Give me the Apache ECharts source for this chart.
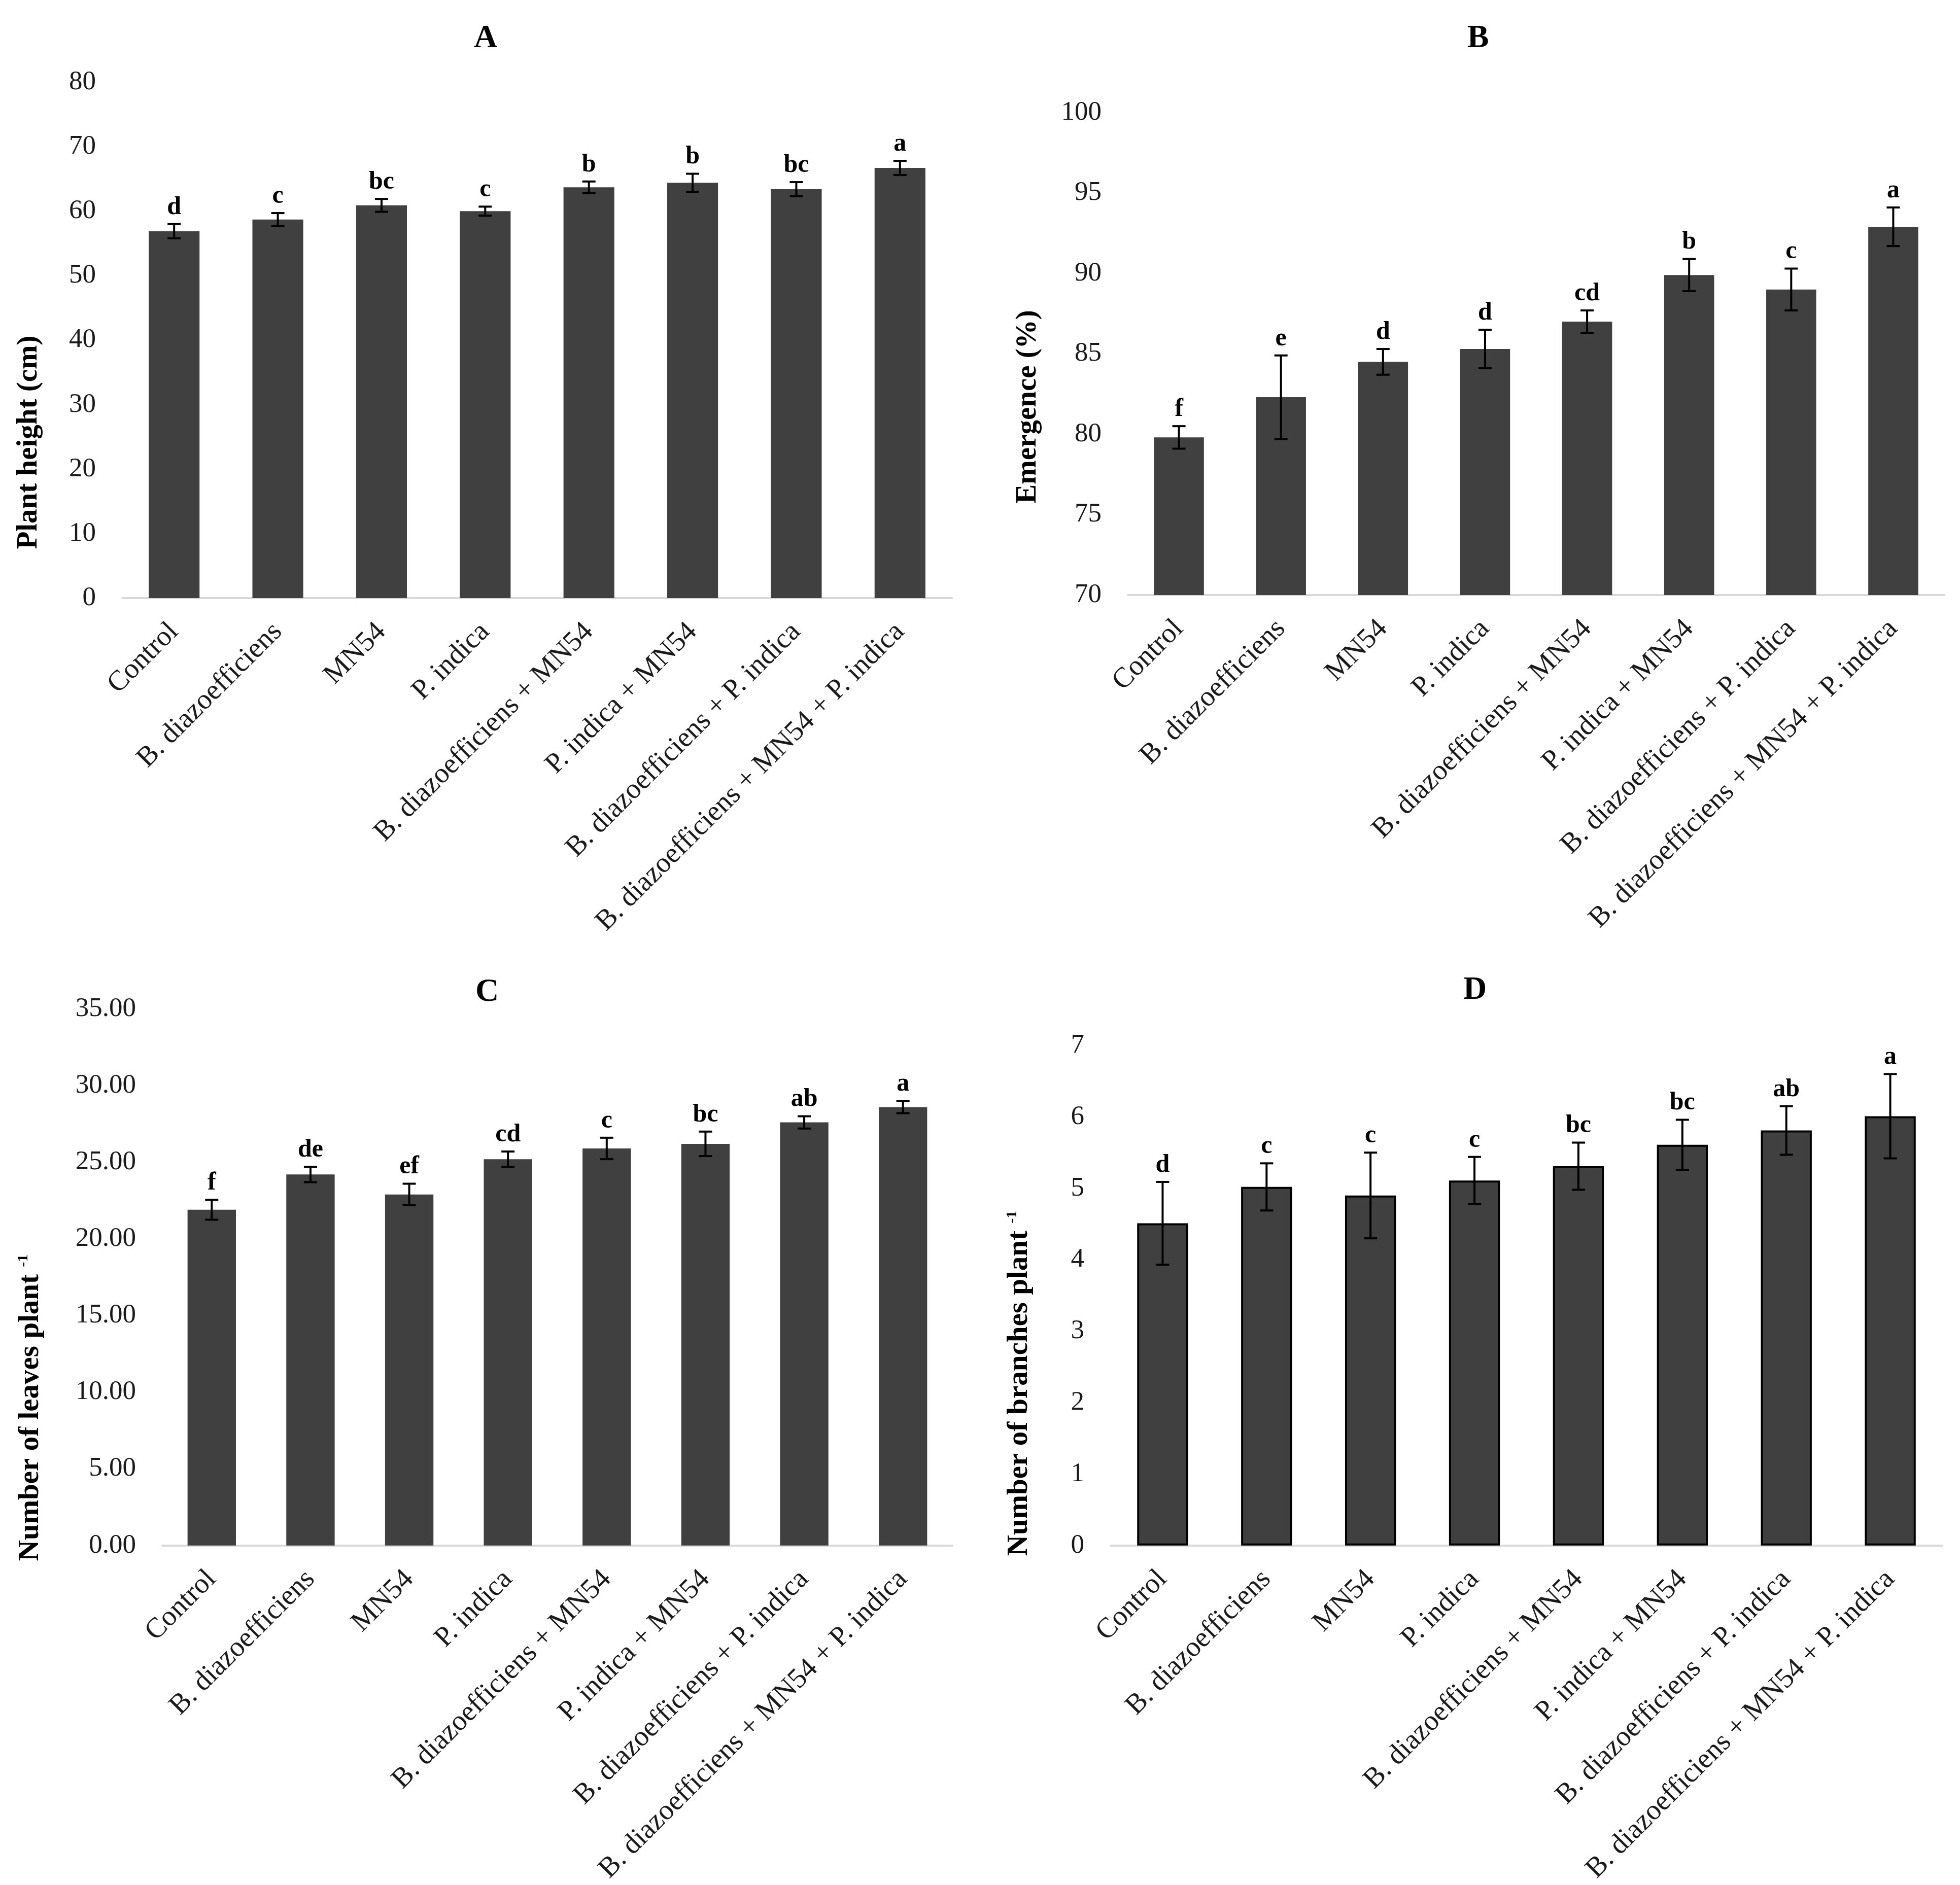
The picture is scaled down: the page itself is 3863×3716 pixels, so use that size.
<!DOCTYPE html>
<html>
<head>
<meta charset="utf-8">
<script src="https://cdn.jsdelivr.net/npm/echarts@6/dist/echarts.min.js"></script>
<style>
  html, body { margin: 0; padding: 0; background: #fff; }
  #chart { width: 3863px; height: 3716px; }
</style>
</head>
<body>
<div id="chart"></div>
<script>
// treatments, same order in every panel
const categories = [
    'Control',
    'B. diazoefficiens',
    'MN54',
    'P. indica',
    'B. diazoefficiens + MN54',
    'P. indica + MN54',
    'B. diazoefficiens + P. indica',
    'B. diazoefficiens + MN54 + P. indica'
];

// A - plant height (cm)
const heightMean = [56.9, 58.7, 60.9, 60.0, 63.7, 64.4, 63.4, 66.7];
const heightErr = [1.1, 1.0, 1.0, 0.7, 0.9, 1.4, 1.1, 1.1];
const heightLetters = ['d', 'c', 'bc', 'c', 'b', 'b', 'bc', 'a'];

// B - emergence (%)
const emergenceMean = [79.8, 82.3, 84.5, 85.3, 87.0, 89.9, 89.0, 92.9];
const emergenceErr = [0.7, 2.6, 0.8, 1.2, 0.7, 1.0, 1.3, 1.2];
const emergenceLetters = ['f', 'e', 'd', 'd', 'cd', 'b', 'c', 'a'];

// C - number of leaves per plant
const leavesMean = [21.9, 24.2, 22.9, 25.2, 25.9, 26.2, 27.6, 28.6];
const leavesErr = [0.65, 0.5, 0.7, 0.5, 0.7, 0.8, 0.4, 0.4];
const leavesLetters = ['f', 'de', 'ef', 'cd', 'c', 'bc', 'ab', 'a'];

// D - number of branches per plant
const branchesMean = [4.51, 5.02, 4.90, 5.11, 5.31, 5.61, 5.81, 6.01];
const branchesErr = [0.58, 0.33, 0.60, 0.33, 0.33, 0.35, 0.34, 0.59];
const branchesLetters = ['d', 'c', 'c', 'c', 'bc', 'bc', 'ab', 'a'];

const FONT = '"Liberation Serif", "Times New Roman", serif';
const TEXT = '#1a1a1a';
const BAR = '#404040';

const panels = [
    {title: 'A', mean: heightMean, err: heightErr, letters: heightLetters,
        min: 0, max: 80, interval: 10, digits: 0, border: false,
        grid: {left: 241, right: 1987, top: 162, bottom: 2537}, titleX: 957, titleY: 44},
    {title: 'B', mean: emergenceMean, err: emergenceErr, letters: emergenceLetters,
        min: 70, max: 100, interval: 5, digits: 0, border: false,
        grid: {left: 2223, right: 31, top: 222, bottom: 2543}, titleX: 2913, titleY: 44},
    {title: 'C', mean: leavesMean, err: leavesErr, letters: leavesLetters,
        min: 0, max: 35, interval: 5, digits: 2, border: false,
        grid: {left: 320, right: 1986, top: 1989, bottom: 617}, titleX: 960, titleY: 1924},
    {title: 'D', mean: branchesMean, err: branchesErr, letters: branchesLetters,
        min: 0, max: 7, interval: 1, digits: 0, border: true,
        grid: {left: 2189, right: 35, top: 2061, bottom: 612}, titleX: 2907, titleY: 1920}
];

// y axis titles, drawn as rotated text
const yNames = [
    {text: 'Plant height (cm)', x: 57, y: 872},
    {text: 'Emergence (%)', x: 2026, y: 802},
    {text: 'Number of leaves plant {sup|-1}', x: 60, y: 2775},
    {text: 'Number of branches plant {sup|-1}', x: 2009, y: 2727}
];

const errorRenderer = (panel) => function (params, api) {
    const i = api.value(0);
    const m = api.value(1);
    const e = api.value(2);
    const top = api.coord([i, m + e]);
    const bot = api.coord([i, m - e]);
    const hw = 13;
    const lineStyle = {stroke: '#000', lineWidth: 4};
    return {
        type: 'group',
        children: [
            {type: 'line', shape: {x1: top[0], y1: top[1], x2: bot[0], y2: bot[1]}, style: lineStyle},
            {type: 'line', shape: {x1: top[0] - hw, y1: top[1], x2: top[0] + hw, y2: top[1]}, style: lineStyle},
            {type: 'line', shape: {x1: bot[0] - hw, y1: bot[1], x2: bot[0] + hw, y2: bot[1]}, style: lineStyle},
            {
                type: 'text',
                x: top[0],
                y: top[1] - 8,
                style: {
                    text: panel.letters[params.dataIndex],
                    fill: '#000',
                    fontSize: 50,
                    fontWeight: 'bold',
                    fontFamily: FONT,
                    align: 'center',
                    verticalAlign: 'bottom'
                }
            }
        ]
    };
};

const option = {
    backgroundColor: '#fff',
    animation: false,
    title: panels.map(p => ({
        text: p.title,
        left: p.titleX,
        top: p.titleY,
        textAlign: 'center',
        padding: 0,
        textStyle: {fontSize: 64, fontWeight: 'bold', fontFamily: FONT, color: '#000'}
    })),
    grid: panels.map(p => p.grid),
    xAxis: panels.map((p, k) => ({
        type: 'category',
        gridIndex: k,
        data: categories,
        axisLine: {show: true, lineStyle: {color: '#d9d9d9', width: 4}},
        axisTick: {show: false},
        axisLabel: {
            interval: 0,
            rotate: 45,
            margin: 58,
            fontSize: 56,
            fontFamily: FONT,
            color: TEXT
        }
    })),
    yAxis: panels.map((p, k) => ({
        type: 'value',
        gridIndex: k,
        min: p.min,
        max: p.max,
        interval: p.interval,
        axisLine: {show: false},
        axisTick: {show: false},
        splitLine: {show: false},
        axisLabel: {
            margin: 52,
            fontSize: 53,
            fontFamily: FONT,
            color: TEXT,
            formatter: v => v.toFixed(p.digits)
        }
    })),
    graphic: yNames.map(n => ({
        type: 'text',
        x: n.x,
        y: n.y,
        rotation: Math.PI / 2,
        style: {
            text: n.text,
            fill: '#000',
            fontSize: 57,
            fontWeight: 'bold',
            fontFamily: FONT,
            align: 'center',
            verticalAlign: 'middle',
            rich: {
                sup: {fontSize: 30, fontWeight: 'bold', fontFamily: FONT, fill: '#000', verticalAlign: 'top'}
            }
        }
    })),
    series: panels.flatMap((p, k) => [
        {
            type: 'bar',
            xAxisIndex: k,
            yAxisIndex: k,
            data: p.mean,
            barWidth: '49%',
            itemStyle: {
                color: BAR,
                borderColor: p.border ? '#000' : BAR,
                borderWidth: p.border ? 4 : 0
            }
        },
        {
            type: 'custom',
            xAxisIndex: k,
            yAxisIndex: k,
            z: 5,
            clip: false,
            renderItem: errorRenderer(p),
            data: p.mean.map((m, i) => [i, m, p.err[i]])
        }
    ])
};

const chart = echarts.init(document.getElementById('chart'));
chart.setOption(option);
</script>
</body>
</html>
